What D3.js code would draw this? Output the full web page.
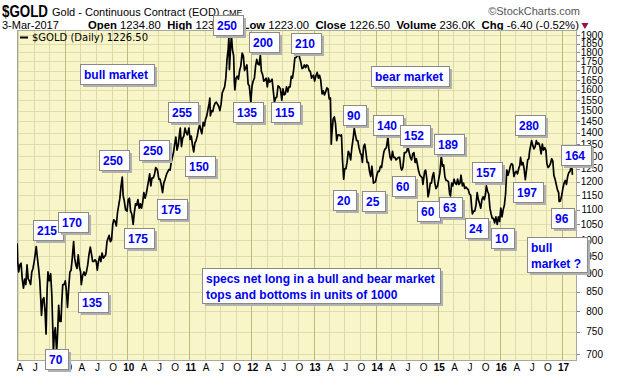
<!DOCTYPE html>
<html><head><meta charset="utf-8">
<script src="https://cdn.jsdelivr.net/npm/d3@7"></script>
<style>
body{margin:0;background:#fff;}
svg{display:block;}
</style></head><body>
<svg id="c" width="620" height="376"></svg>
<script>
// ---------------- data ----------------
const dates = [
"2008-03-25","2008-03-28","2008-04-03","2008-04-10","2008-04-17","2008-04-24","2008-05-01","2008-05-08","2008-05-15","2008-05-22","2008-05-29",
"2008-06-05","2008-06-12","2008-06-19","2008-06-26","2008-07-03","2008-07-10","2008-07-15","2008-07-22","2008-07-29","2008-08-05","2008-08-12",
"2008-08-15","2008-08-22","2008-08-29","2008-09-05","2008-09-11","2008-09-17","2008-09-22","2008-09-30","2008-10-08","2008-10-15","2008-10-22",
"2008-10-24","2008-10-29","2008-11-04","2008-11-12","2008-11-17","2008-11-24","2008-12-01","2008-12-08","2008-12-12","2008-12-18","2008-12-26",
"2009-01-02","2009-01-08","2009-01-15","2009-01-22","2009-01-29","2009-02-05","2009-02-12","2009-02-20","2009-02-26","2009-03-05","2009-03-12",
"2009-03-19","2009-03-26","2009-04-02","2009-04-06","2009-04-14","2009-04-22","2009-04-29","2009-05-06","2009-05-14","2009-05-21","2009-05-29",
"2009-06-04","2009-06-12","2009-06-19","2009-06-26","2009-07-03","2009-07-09","2009-07-16","2009-07-23","2009-07-30","2009-08-06","2009-08-14",
"2009-08-21","2009-08-28","2009-09-04","2009-09-10","2009-09-17","2009-09-24","2009-10-01","2009-10-08","2009-10-14","2009-10-22","2009-10-29",
"2009-11-05","2009-11-12","2009-11-19","2009-11-26","2009-12-03","2009-12-08","2009-12-15","2009-12-22","2009-12-31","2010-01-07","2010-01-14",
"2010-01-21","2010-01-28","2010-02-05","2010-02-12","2010-02-19","2010-02-26","2010-03-05","2010-03-12","2010-03-19","2010-03-26","2010-04-02",
"2010-04-09","2010-04-16","2010-04-23","2010-04-30","2010-05-07","2010-05-13","2010-05-20","2010-05-27","2010-06-04","2010-06-11","2010-06-18",
"2010-06-28","2010-07-06","2010-07-13","2010-07-20","2010-07-28","2010-08-04","2010-08-12","2010-08-20","2010-08-27","2010-09-03","2010-09-10",
"2010-09-17","2010-09-24","2010-10-01","2010-10-07","2010-10-14","2010-10-21","2010-10-28","2010-11-04","2010-11-09","2010-11-16","2010-11-23",
"2010-11-30","2010-12-07","2010-12-14","2010-12-21","2010-12-30","2011-01-06","2011-01-13","2011-01-20","2011-01-27","2011-02-03","2011-02-10",
"2011-02-17","2011-02-24","2011-03-03","2011-03-10","2011-03-16","2011-03-24","2011-03-31","2011-04-07","2011-04-14","2011-04-21","2011-04-28",
"2011-05-02","2011-05-05","2011-05-12","2011-05-19","2011-05-26","2011-06-02","2011-06-09","2011-06-16","2011-06-23","2011-06-30","2011-07-07",
"2011-07-14","2011-07-21","2011-07-28","2011-08-04","2011-08-11","2011-08-18","2011-08-22","2011-08-25","2011-09-01","2011-09-06","2011-09-12",
"2011-09-19","2011-09-23","2011-09-26","2011-10-03","2011-10-10","2011-10-17","2011-10-24","2011-10-31","2011-11-08","2011-11-15","2011-11-22",
"2011-11-29","2011-12-06","2011-12-13","2011-12-20","2011-12-29","2012-01-05","2012-01-12","2012-01-19","2012-01-26","2012-02-02","2012-02-09",
"2012-02-16","2012-02-23","2012-02-29","2012-03-07","2012-03-14","2012-03-21","2012-03-28","2012-04-04","2012-04-11","2012-04-18","2012-04-25",
"2012-05-02","2012-05-09","2012-05-16","2012-05-23","2012-05-30","2012-06-06","2012-06-13","2012-06-20","2012-06-28","2012-07-05","2012-07-12",
"2012-07-19","2012-07-26","2012-08-02","2012-08-09","2012-08-16","2012-08-23","2012-08-30","2012-09-06","2012-09-13","2012-09-20","2012-09-27",
"2012-10-04","2012-10-11","2012-10-18","2012-10-25","2012-11-01","2012-11-08","2012-11-15","2012-11-22","2012-11-29","2012-12-06","2012-12-13",
"2012-12-20","2012-12-31","2013-01-07","2013-01-14","2013-01-22","2013-01-29","2013-02-05","2013-02-12","2013-02-20","2013-02-27","2013-03-06",
"2013-03-13","2013-03-20","2013-03-27","2013-04-03","2013-04-10","2013-04-12","2013-04-15","2013-04-19","2013-04-26","2013-05-03","2013-05-10",
"2013-05-17","2013-05-24","2013-05-31","2013-06-07","2013-06-14","2013-06-20","2013-06-27","2013-07-03","2013-07-10","2013-07-17","2013-07-24",
"2013-07-31","2013-08-07","2013-08-14","2013-08-21","2013-08-28","2013-09-04","2013-09-11","2013-09-18","2013-09-25","2013-10-02","2013-10-09",
"2013-10-15","2013-10-22","2013-10-29","2013-11-05","2013-11-12","2013-11-19","2013-11-26","2013-12-03","2013-12-10","2013-12-19","2013-12-31",
"2014-01-08","2014-01-15","2014-01-22","2014-01-29","2014-02-05","2014-02-12","2014-02-19","2014-02-26","2014-03-05","2014-03-14","2014-03-20",
"2014-03-27","2014-04-03","2014-04-10","2014-04-17","2014-04-24","2014-05-01","2014-05-08","2014-05-15","2014-05-22","2014-05-29","2014-06-03",
"2014-06-10","2014-06-19","2014-06-26","2014-07-03","2014-07-10","2014-07-17","2014-07-24","2014-07-31","2014-08-07","2014-08-14","2014-08-21",
"2014-08-28","2014-09-04","2014-09-11","2014-09-18","2014-09-25","2014-10-02","2014-10-06","2014-10-16","2014-10-22","2014-10-29","2014-11-05",
"2014-11-11","2014-11-18","2014-11-25","2014-12-01","2014-12-08","2014-12-15","2014-12-22","2014-12-31","2015-01-07","2015-01-14","2015-01-22",
"2015-01-29","2015-02-05","2015-02-12","2015-02-19","2015-02-26","2015-03-05","2015-03-12","2015-03-17","2015-03-24","2015-03-31","2015-04-07",
"2015-04-14","2015-04-21","2015-04-28","2015-05-05","2015-05-12","2015-05-18","2015-05-26","2015-06-02","2015-06-09","2015-06-16","2015-06-23",
"2015-06-30","2015-07-07","2015-07-14","2015-07-20","2015-07-24","2015-07-31","2015-08-07","2015-08-14","2015-08-21","2015-08-28","2015-09-04",
"2015-09-11","2015-09-18","2015-09-25","2015-10-02","2015-10-09","2015-10-14","2015-10-21","2015-10-28","2015-11-04","2015-11-11","2015-11-18",
"2015-11-25","2015-12-02","2015-12-09","2015-12-17","2015-12-24","2015-12-31","2016-01-07","2016-01-14","2016-01-21","2016-01-28","2016-02-04",
"2016-02-11","2016-02-18","2016-02-25","2016-03-03","2016-03-10","2016-03-17","2016-03-24","2016-03-31","2016-04-07","2016-04-14","2016-04-21",
"2016-04-28","2016-05-02","2016-05-09","2016-05-16","2016-05-23","2016-05-30","2016-06-06","2016-06-13","2016-06-20","2016-06-24","2016-07-06",
"2016-07-13","2016-07-20","2016-07-27","2016-08-03","2016-08-10","2016-08-17","2016-08-24","2016-08-31","2016-09-07","2016-09-14","2016-09-21",
"2016-09-28","2016-10-04","2016-10-11","2016-10-18","2016-10-25","2016-11-01","2016-11-08","2016-11-14","2016-11-21","2016-11-28","2016-12-05",
"2016-12-12","2016-12-15","2016-12-22","2016-12-30","2017-01-06","2017-01-13","2017-01-20","2017-01-27","2017-02-03","2017-02-10","2017-02-17",
"2017-02-24","2017-03-01","2017-03-03"];
const closes = [
990,935,905,925,930,885,860,885,870,925,885,
880,870,905,915,935,960,980,945,915,880,820,
790,830,835,800,745,855,905,880,900,840,735,
700,745,760,705,740,815,775,775,820,870,870,
880,855,810,860,905,910,945,995,945,925,915,
955,920,905,870,895,905,895,905,925,955,978,
960,935,935,940,935,910,935,950,935,960,945,
950,955,995,1005,1015,995,1000,1050,1065,1060,1045,
1090,1115,1140,1185,1218,1150,1130,1100,1095,1135,1140,
1095,1085,1050,1090,1120,1115,1135,1105,1120,1105,1125,
1160,1140,1155,1180,1205,1230,1185,1215,1215,1230,1255,
1245,1210,1210,1190,1160,1195,1210,1228,1238,1247,1245,
1275,1297,1318,1350,1380,1325,1345,1390,1420,1340,1375,
1385,1420,1400,1390,1420,1370,1385,1345,1318,1355,1365,
1385,1415,1435,1410,1395,1445,1430,1460,1475,1505,1535,
1560,1475,1500,1495,1520,1535,1540,1530,1520,1500,1530,
1585,1600,1615,1660,1760,1820,1890,1705,1830,1895,1815,
1780,1640,1600,1660,1670,1655,1700,1725,1795,1780,1700,
1715,1730,1630,1620,1540,1620,1645,1660,1725,1760,1735,
1730,1785,1695,1680,1645,1650,1660,1615,1660,1640,1645,
1655,1595,1540,1560,1565,1620,1615,1605,1550,1605,1575,
1580,1615,1590,1615,1615,1670,1660,1705,1770,1770,1780,
1795,1770,1745,1710,1715,1730,1715,1730,1725,1700,1695,
1660,1675,1645,1670,1690,1660,1675,1650,1580,1595,1575,
1590,1610,1605,1555,1560,1480,1350,1400,1460,1470,1440,
1365,1390,1390,1385,1390,1285,1210,1250,1250,1275,1320,
1310,1285,1335,1370,1418,1390,1365,1365,1335,1315,1305,
1275,1340,1350,1315,1275,1275,1240,1220,1260,1195,1200,
1225,1240,1240,1260,1255,1290,1320,1330,1335,1380,1330,
1295,1285,1320,1295,1295,1285,1290,1295,1295,1255,1245,
1255,1315,1315,1320,1340,1315,1295,1285,1310,1315,1275,
1290,1265,1240,1225,1220,1215,1190,1240,1245,1210,1145,
1160,1195,1195,1220,1235,1195,1175,1185,1210,1235,1300,
1260,1265,1220,1205,1205,1200,1155,1148,1195,1185,1210,
1195,1190,1210,1190,1195,1225,1185,1195,1175,1180,1175,
1170,1155,1150,1105,1085,1095,1095,1115,1160,1135,1120,
1105,1135,1145,1135,1155,1185,1165,1155,1105,1085,1070,
1070,1055,1075,1050,1075,1060,1105,1075,1100,1115,1155,
1245,1225,1240,1260,1270,1265,1220,1235,1240,1230,1250,
1265,1295,1265,1275,1250,1208,1245,1285,1290,1320,1365,
1345,1330,1340,1365,1350,1355,1340,1310,1350,1325,1335,
1325,1270,1255,1260,1270,1290,1280,1225,1210,1190,1170,
1160,1128,1130,1150,1175,1195,1205,1190,1220,1235,1240,
1258,1250,1226.5];
const yTicks = [700,750,800,850,900,950,1000,1050,1100,1150,1200,1250,1300,1350,1400,1450,1500,1550,1600,1650,1700,1750,1800,1850,1900];
const xTickLabels = ["A","J","O","09","A","J","O","10","A","J","O","11","A","J","O","12","A","J","O","13",
                     "A","J","O","14","A","J","O","15","A","J","O","16","A","J","O","17"];
// annotations: text, decimal-year of left edge, price at top edge
const noteTexts  = ["bull market","250","200","210","135","115","255","150","250","175","175","250","215","170","135","70",
                    "90","20","bear market","140","152","189","25","60","60","63","24","157","10","197","280","96","164",
                    "bull\nmarket ?","specs net long in a bull and bear market\ntops and bottoms in units of 1000"];
const noteYears  = [2009.24,2011.38,2011.96,2012.64,2011.70,2012.32,2010.66,2010.93,2010.19,2010.48,2009.95,2009.55,2008.48,2008.89,2009.21,2008.68,
                    2013.47,2013.31,2013.93,2013.96,2014.39,2014.94,2013.78,2014.26,2014.67,2015.02,2015.44,2015.55,2015.86,2016.21,2016.24,2016.82,2016.98,
                    2016.44,2011.20];
const notePrices = [1735,2022,1918,1912,1540,1540,1540,1301,1368,1137,1038,1326,1065,1092,850,711,
                    1526,1170,1724,1479,1433,1394,1166,1222,1130,1144,1071,1277,1038,1199,1479,1106,1347,
                    1010,916];

// ---------------- chart ----------------
const svg = d3.select("#c");
const L = 17, R = 577, T = 30, B = 361;
const parse = d3.timeParse("%Y-%m-%d");
const series = dates.map((d, i) => ({date: parse(d), v: closes[i]}));
const x = d3.scaleTime().domain([new Date(2008, 2, 24), new Date(2017, 2, 30)]).range([L, R]);
const y = d3.scaleLog().domain([700, 1900]).range([354, 35]);
const FONT = "'Liberation Sans', Arial, sans-serif";

// header
const h = svg.append("g").attr("font-family", FONT);
h.append("text").attr("x", 2).attr("y", 17).attr("font-size", 16).attr("font-weight", "bold")
  .attr("textLength", 46).attr("lengthAdjust", "spacingAndGlyphs").text("$GOLD");
const t1 = h.append("text").attr("x", 52).attr("y", 16).attr("font-size", 11);
t1.append("tspan").text("Gold - Continuous Contract (EOD) ");
t1.append("tspan").attr("font-size", 9).text("CME");
h.append("text").attr("x", 580).attr("y", 15).attr("text-anchor", "end").attr("font-size", 11).attr("fill", "#555")
  .text("\u00A9StockCharts.com");
h.append("text").attr("x", 2).attr("y", 29).attr("font-size", 11).text("3-Mar-2017");
const t2 = h.append("text").attr("x", 88).attr("y", 29).attr("font-size", 11.3).attr("style", "white-space:pre");
[["Open", true], [" 1234.80  ", false], ["High", true], [" 1236.90  ", false], ["Low", true], [" 1223.00  ", false],
 ["Close", true], [" 1226.50  ", false], ["Volume", true], [" 236.0K  ", false], ["Chg", true], [" -6.40 (-0.52%)", false]]
 .forEach(([s, b]) => t2.append("tspan").attr("font-weight", b ? "bold" : null).text(s));
const t2w = t2.node().getComputedTextLength();
h.append("path").attr("d", d3.symbol(d3.symbolTriangle, 22)()).attr("fill", "#a0103a")
  .attr("transform", `translate(${88 + t2w + 6},25) rotate(180)`);

// plot background
svg.append("rect").attr("x", L).attr("y", T).attr("width", R - L).attr("height", B - T).attr("fill", "#f8f6c8");

// grid
const grid = svg.append("g");
grid.selectAll("line.h").data(yTicks).join("line")
  .attr("x1", L).attr("x2", R).attr("y1", d => Math.round(y(d)) + 0.5).attr("y2", d => Math.round(y(d)) + 0.5)
  .attr("stroke", "#deddab").attr("stroke-width", 1);
const qDates = d3.timeMonth.every(3).range(new Date(2008, 3, 1), new Date(2017, 0, 2));
const xTicks = qDates.map((d, i) => ({date: d, label: xTickLabels[i], year: d.getMonth() === 0}));
grid.selectAll("line.v").data(xTicks).join("line")
  .attr("x1", d => Math.round(x(d.date)) + 0.5).attr("x2", d => Math.round(x(d.date)) + 0.5)
  .attr("y1", T).attr("y2", B)
  .attr("stroke", d => d.year ? "#b9b981" : "#dcdba8").attr("stroke-width", 1);

// border
svg.append("rect").attr("x", L + 0.5).attr("y", T + 0.5).attr("width", R - L - 1).attr("height", B - T - 1)
  .attr("fill", "none").attr("stroke", "#a8a8a0");

// legend
svg.append("line").attr("x1", 20).attr("x2", 28).attr("y1", 37.5).attr("y2", 37.5).attr("stroke", "#000").attr("stroke-width", 2);
svg.append("text").attr("x", 32).attr("y", 41).attr("font-family", "'DejaVu Sans', Verdana, sans-serif").attr("font-size", 10)
  .text("$GOLD (Daily) 1226.50");

// price line
svg.append("clipPath").attr("id", "clip").append("rect").attr("x", L).attr("y", T).attr("width", R - L).attr("height", B - T);
svg.append("path").datum(series).attr("clip-path", "url(#clip)")
  .attr("fill", "none").attr("stroke", "#000").attr("stroke-width", 1.7).attr("stroke-linejoin", "round")
  .attr("d", d3.line().x(d => x(d.date)).y(d => y(d.v)));

// right axis
const ra = svg.append("g").attr("font-family", FONT).attr("font-size", 10);
ra.selectAll("line").data(yTicks).join("line")
  .attr("x1", R).attr("x2", R + 3).attr("y1", d => Math.round(y(d)) + 0.5).attr("y2", d => Math.round(y(d)) + 0.5)
  .attr("stroke", "#888");
ra.selectAll("text").data(yTicks).join("text")
  .attr("x", 603).attr("y", d => y(d)).attr("dy", "0.35em").attr("text-anchor", "end").text(d => d);

// bottom axis
const ba = svg.append("g").attr("font-family", FONT).attr("font-size", 10);
ba.selectAll("text").data(xTicks).join("text")
  .attr("x", d => x(d.date) + 1.5).attr("y", 371).attr("text-anchor", "middle")
  .attr("font-weight", d => d.year ? "bold" : null).text(d => d.label);

// annotations
function yearToDate(yr) {
  const y0 = Math.floor(yr), a = new Date(y0, 0, 1), b = new Date(y0 + 1, 0, 1);
  return new Date(+a + (yr - y0) * (b - a));
}
const notes = svg.append("g").attr("font-family", FONT).attr("font-size", 12).attr("font-weight", "bold");
noteTexts.forEach((txt, i) => {
  const gx = Math.round(x(yearToDate(noteYears[i]))), gy = Math.round(y(notePrices[i]));
  const g = notes.append("g").attr("transform", `translate(${gx},${gy})`);
  const lines = txt.split("\n");
  const shadow = g.append("rect").attr("fill", "#b0b0b0");
  const box = g.append("rect").attr("fill", "#fff").attr("stroke", "#8a8a8a");
  const tx = g.append("text").attr("fill", "#0000ee");
  lines.forEach((ln, k) => tx.append("tspan").attr("x", 4).attr("y", 15 + k * 16).text(ln));
  const w = Math.ceil(tx.node().getBBox().width) + 9;
  const hgt = lines.length === 1 ? 20 : lines.length * 16 + 3;
  box.attr("x", 0.5).attr("y", 0.5).attr("width", w).attr("height", hgt);
  shadow.attr("x", 3).attr("y", 3).attr("width", w).attr("height", hgt);
});
</script>
</body></html>
